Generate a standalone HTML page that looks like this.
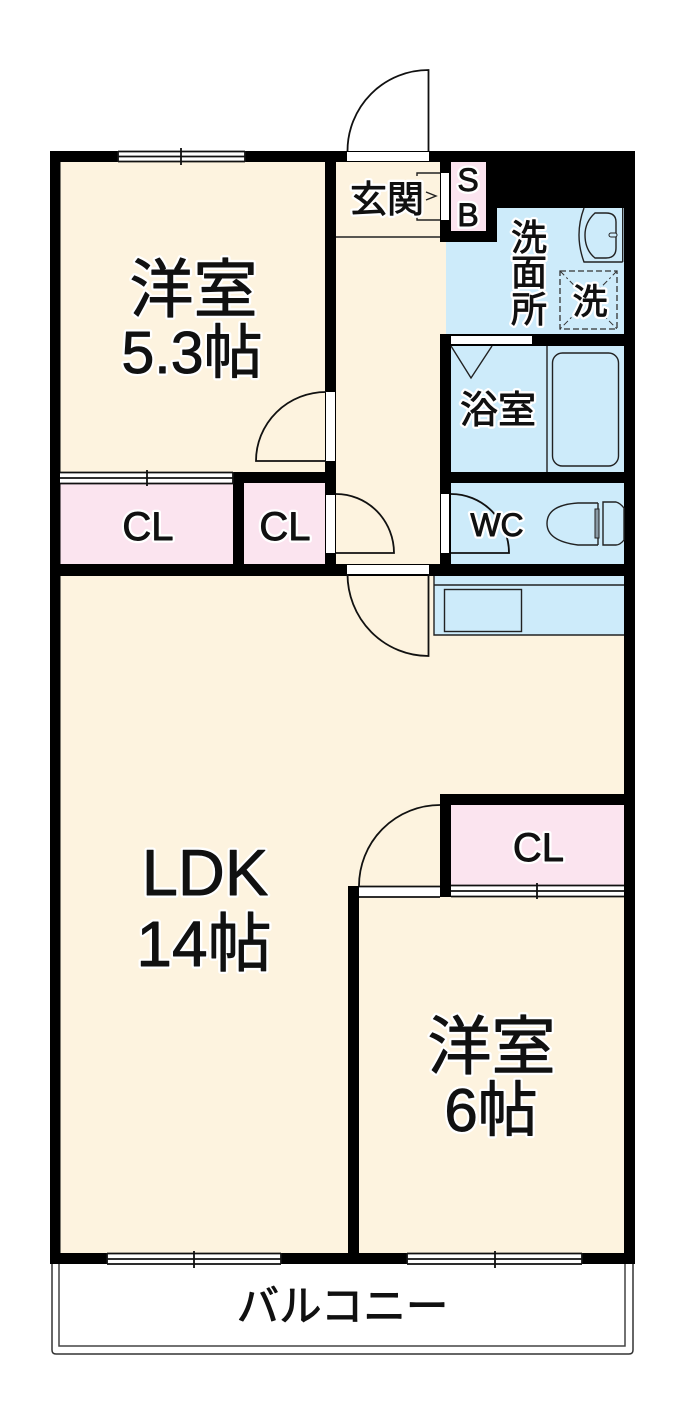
<!DOCTYPE html>
<html><head><meta charset="utf-8">
<style>
html,body{margin:0;padding:0;background:#fff}
svg{display:block}
text{font-family:"Liberation Sans","Noto Sans CJK JP",sans-serif;fill:#111}
.halo text{paint-order:stroke;stroke:#fff;stroke-width:5.5px;stroke-linejoin:round}
.ink text{stroke:#111;stroke-width:.9px;stroke-linejoin:round}
.l{fill:none;stroke:#111;stroke-width:1.8}
.t{fill:none;stroke:#222;stroke-width:1.4}
</style></head><body>
<svg width="700" height="1425" viewBox="0 0 700 1425" xmlns="http://www.w3.org/2000/svg">
<rect width="700" height="1425" fill="#fff"/>
<!-- balcony -->
<path d="M52 1260V1350Q52 1354 56 1354H629Q633 1354 633 1350V1260" fill="none" stroke="#333" stroke-width="1.5"/>
<path d="M59 1260V1346H625V1260" fill="none" stroke="#444" stroke-width="1.5"/>
<!-- floors -->
<rect x="55" y="156" width="575" height="1100" fill="#fdf3df"/>
<rect x="446" y="208" width="180" height="126" fill="#cdebfa"/>
<rect x="451" y="340" width="175" height="134" fill="#cdebfa"/>
<rect x="451" y="480" width="175" height="86" fill="#cdebfa"/>
<rect x="434" y="574" width="190" height="61" fill="#cdebfa"/>
<rect x="60" y="482" width="175" height="84" fill="#fbe4ef"/>
<rect x="242" y="482" width="84" height="84" fill="#fbe4ef"/>
<rect x="449" y="803" width="177" height="84" fill="#fbe4ef"/>
<rect x="449" y="160" width="38" height="72" fill="#fbe4ef"/>
<!-- walls -->
<g fill="#000">
<rect x="50" y="151" width="585" height="11"/>
<rect x="50" y="151" width="10.5" height="1113"/>
<rect x="624" y="151" width="11" height="1113"/>
<rect x="50" y="1253" width="585" height="11"/>
<rect x="486" y="151" width="149" height="57"/>
<rect x="486" y="151" width="11" height="91"/>
<rect x="440" y="231" width="57" height="11"/>
<rect x="440" y="151" width="11" height="91"/>
<rect x="325" y="151" width="11" height="425"/>
<rect x="440" y="334" width="195" height="12"/>
<rect x="440" y="334" width="11" height="242"/>
<rect x="440" y="472" width="195" height="11"/>
<rect x="50" y="564" width="585" height="12"/>
<rect x="233" y="472" width="93" height="11"/>
<rect x="233" y="472" width="11" height="104"/>
<rect x="440" y="794" width="195" height="11"/>
<rect x="440" y="794" width="11" height="103"/>
<rect x="348" y="886" width="11" height="378"/>
</g>
<!-- openings -->
<g fill="#fff">
<rect x="347" y="152" width="82" height="9"/>
<rect x="441" y="173" width="8" height="47"/>
<rect x="451" y="336" width="81" height="8"/>
<rect x="441" y="494" width="8" height="59"/>
<rect x="326" y="392" width="9" height="69"/>
<rect x="326" y="495" width="9" height="58"/>
<rect x="347" y="565" width="82" height="9"/>
<rect x="359" y="886" width="81" height="11"/>
</g>
<!-- entry door -->
<path class="l" d="M428.500 151V70A81 81 0 0 0 347.500 151"/>
<path class="t" d="M336 237H440"/>
<path class="t" d="M417 176V173H440M417 217V220H440M426 192L436 196L426 200"/>
<!-- room door -->
<path class="l" d="M326 392A70 69 0 0 0 256 461H326"/>
<!-- hall door -->
<path class="l" d="M336 494A58 59 0 0 1 394 553H336"/>
<!-- WC door -->
<path class="l" d="M451 494A58 59 0 0 1 509 553H451"/>
<!-- LDK door -->
<path class="l" d="M347.500 574A81 82 0 0 0 428.500 656V574"/>
<!-- lower room door -->
<path class="l" d="M440 805A81 81 0 0 0 359 886"/>
<path class="l" d="M359 886.500H440M359 897H440"/>
<!-- sliding doors & windows -->
<g>
<rect x="60" y="472" width="173" height="12" fill="#fff"/>
<path class="l" d="M60 472.500H233M60 478H233M60 483.500H233M233 472V484M147 470V486"/>
<rect x="451" y="885" width="173" height="12" fill="#fff"/>
<path class="l" d="M451 885.500H624M451 891H624M451 896.500H624M537 883V899"/>
<rect x="118" y="151" width="127" height="11" fill="#fff"/>
<path class="l" d="M118 151.500H245M118 156.500H245M118 161.500H245M118 151V162M245 151V162M181 148V165"/>
<rect x="107" y="1253" width="174" height="11" fill="#fff"/>
<path class="l" d="M107 1253.500H281M107 1259H281M107 1264H281M107 1253V1264M281 1253V1264M194 1251V1268"/>
<rect x="407" y="1253" width="175" height="11" fill="#fff"/>
<path class="l" d="M407 1253.500H582M407 1259H582M407 1264H582M407 1253V1264M582 1253V1264M495 1251V1268"/>
</g>
<!-- basin -->
<path class="t" d="M622.700 208V262M584 208Q574 235 584 262H622.700"/>
<path class="t" d="M616 222Q616 213 606 213H595Q585 222 585 235Q585 250 595 258H606Q616 258 616 248Z"/>
<rect x="609" y="233" width="8" height="4" rx="2" fill="#cdebfa" stroke="#222"/>
<!-- washer -->
<rect x="560" y="271" width="57" height="58" fill="none" stroke="#333" stroke-width="1.3" stroke-dasharray="6 3"/>
<path d="M560 271L617 329M617 271L560 329" fill="none" stroke="#333" stroke-width="1" stroke-dasharray="6 3 2 3"/>
<!-- bath -->
<path class="t" d="M547 346V472"/>
<rect x="552.500" y="353" width="66" height="113" rx="10" class="t"/>
<path class="t" d="M451 346L471 378L492 346"/>
<!-- toilet -->
<path class="t" d="M598 503H578Q547 505 547 523.500Q547 541 578 545H598"/>
<path class="t" d="M603 502H616Q620 503 624 508V540Q620 545 616 545H603ZM598 503V545"/>
<rect x="595" y="509" width="4" height="29" fill="#8a9aa5" stroke="#222" stroke-width="1"/>
<!-- kitchen -->
<path class="t" d="M434 576V635H624M434 585H624"/>
<rect x="444.500" y="589.500" width="77" height="42" class="t"/>
<!-- labels: halo layer -->
<g text-anchor="middle" class="halo">
<text x="193.500" y="312" font-size="64">洋室</text>
<text x="192" y="373" font-size="59">5.3帖</text>
<text x="205" y="895" font-size="65">LDK</text>
<text x="204" y="966" font-size="64">14帖</text>
<text x="491.500" y="1069" font-size="64">洋室</text>
<text x="491" y="1131" font-size="60">6帖</text>
<text x="342.500" y="1321" font-size="42.500">バルコニー</text>
<text x="387" y="212" font-size="37">玄関</text>
<text x="468" y="191" font-size="32">S</text>
<text x="468" y="226" font-size="32">B</text>
<text x="529" y="250" font-size="36">洗</text>
<text x="529" y="285" font-size="36">面</text>
<text x="529" y="322" font-size="36">所</text>
<text x="590" y="314" font-size="35">洗</text>
<text x="498" y="423" font-size="38">浴室</text>
<text x="497" y="536" font-size="32">WC</text>
<text x="148" y="540" font-size="40">CL</text>
<text x="285" y="540" font-size="40">CL</text>
<text x="538.500" y="861" font-size="40">CL</text>
</g>
<!-- labels: ink layer -->
<g text-anchor="middle" class="ink">
<text x="193.500" y="312" font-size="64">洋室</text>
<text x="192" y="373" font-size="59">5.3帖</text>
<text x="205" y="895" font-size="65">LDK</text>
<text x="204" y="966" font-size="64">14帖</text>
<text x="491.500" y="1069" font-size="64">洋室</text>
<text x="491" y="1131" font-size="60">6帖</text>
<text x="342.500" y="1321" font-size="42.500">バルコニー</text>
<text x="387" y="212" font-size="37">玄関</text>
<text x="468" y="191" font-size="32">S</text>
<text x="468" y="226" font-size="32">B</text>
<text x="529" y="250" font-size="36">洗</text>
<text x="529" y="285" font-size="36">面</text>
<text x="529" y="322" font-size="36">所</text>
<text x="590" y="314" font-size="35">洗</text>
<text x="498" y="423" font-size="38">浴室</text>
<text x="497" y="536" font-size="32">WC</text>
<text x="148" y="540" font-size="40">CL</text>
<text x="285" y="540" font-size="40">CL</text>
<text x="538.500" y="861" font-size="40">CL</text>
</g>
</svg>
</body></html>
